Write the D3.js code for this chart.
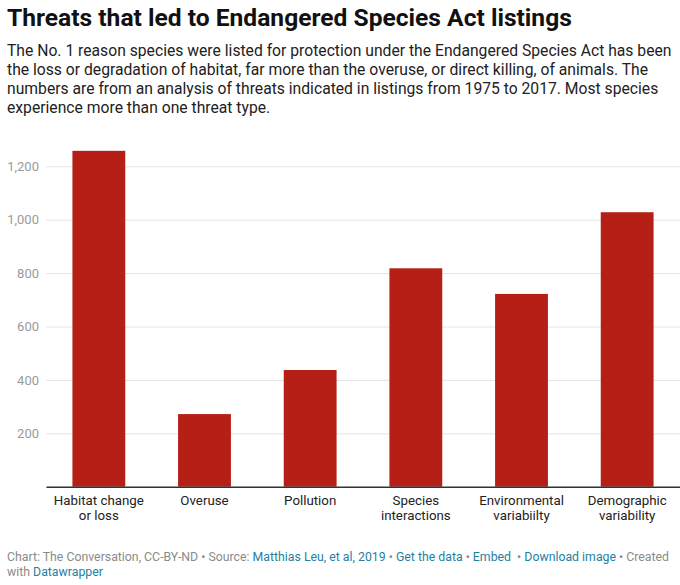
<!DOCTYPE html>
<html>
<head>
<meta charset="utf-8">
<script src="https://cdn.jsdelivr.net/npm/d3@7"></script>
<style>
  body { margin: 0; background: #fff; font-family: Roboto, "Noto Sans", sans-serif; }
  svg { display: block; }
  .link { fill: #1d81a2; }
</style>
</head>
<body>
<svg id="chart" width="680" height="585"></svg>
<script>
// data
var categories = ["Habitat change|or loss", "Overuse", "Pollution", "Species|interactions", "Environmental|variabiilty", "Demographic|variability"];
var listings = [1258, 272, 437, 818, 722, 1028];
var yTicks = [200, 400, 600, 800, 1000, 1200];

var titleText = "Threats that led to Endangered Species Act listings";
var subtitleLines = [
  "The No. 1 reason species were listed for protection under the Endangered Species Act has been",
  "the loss or degradation of habitat, far more than the overuse, or direct killing, of animals. The",
  "numbers are from an analysis of threats indicated in listings from 1975 to 2017. Most species",
  "experience more than one threat type."
];

var svg = d3.select("#chart");

svg.append("text")
   .attr("x", 7).attr("y", 26)
   .style("font-size", "24.6px").style("font-weight", "bold").style("fill", "#111")
   .text(titleText);

svg.append("g").selectAll("text")
   .data(subtitleLines)
   .enter().append("text")
   .attr("x", 7)
   .attr("y", function(d, i) { return 56 + i * 19; })
   .style("font-size", "15.7px").style("fill", "#222")
   .text(function(d) { return d; });

var plotLeft = 46, plotRight = 680, plotTop = 166.3, plotBottom = 486.7;

var x = d3.scaleBand().domain(categories).range([plotLeft, plotRight]).paddingInner(0.5).paddingOuter(0.25);
var y = d3.scaleLinear().domain([0, 1200]).range([plotBottom, plotTop]);

// grid
var grid = svg.append("g")
   .attr("transform", "translate(" + plotLeft + ",0)")
   .call(d3.axisLeft(y).tickValues(yTicks).tickSize(-(plotRight - plotLeft)).tickFormat(d3.format(",")));
grid.select(".domain").remove();
grid.selectAll(".tick line").attr("stroke", "#e4e4e4");
grid.selectAll(".tick text")
    .attr("x", -7)
    .style("font-family", "Roboto").style("font-size", "13px").style("fill", "#9a9a9a");

// bars
svg.append("g").selectAll("rect")
   .data(listings)
   .enter().append("rect")
   .attr("x", function(d, i) { return x(categories[i]); })
   .attr("y", function(d) { return y(d); })
   .attr("width", x.bandwidth())
   .attr("height", function(d) { return y(0) - y(d); })
   .attr("fill", "#b51f15");

// baseline + category labels
var xAxis = svg.append("g")
   .attr("transform", "translate(0," + plotBottom + ")")
   .call(d3.axisBottom(x).tickSize(0).tickFormat(""));
xAxis.select(".domain").attr("stroke", "#333").attr("stroke-width", 1.5);

xAxis.selectAll(".tick").each(function(d) {
  var t = d3.select(this).append("text")
     .attr("fill", "#222")
     .attr("text-anchor", "middle")
     .style("font-family", "Roboto").style("font-size", "13.3px");
  d.split("|").forEach(function(line, i) {
    t.append("tspan").attr("x", 0).attr("y", 18.5 + i * 15).text(line);
  });
});

// footer
var foot1 = svg.append("text").attr("x", 7).attr("y", 561)
   .style("font-size", "12.3px").style("fill", "#8a8a8a");
[["Chart: The Conversation, CC-BY-ND \u2022 Source: ", false],
 ["Matthias Leu, et al, 2019", true],
 [" \u2022 ", false], ["Get the data", true],
 [" \u2022 ", false], ["Embed", true],
 [" \u00a0\u2022 ", false], ["Download image", true],
 [" \u2022 Created", false]].forEach(function(p) {
  foot1.append("tspan").attr("class", p[1] ? "link" : null).text(p[0]);
});
var foot2 = svg.append("text").attr("x", 7).attr("y", 576)
   .style("font-size", "12.3px").style("fill", "#8a8a8a");
foot2.append("tspan").text("with ");
foot2.append("tspan").attr("class", "link").text("Datawrapper");
</script>
</body>
</html>
